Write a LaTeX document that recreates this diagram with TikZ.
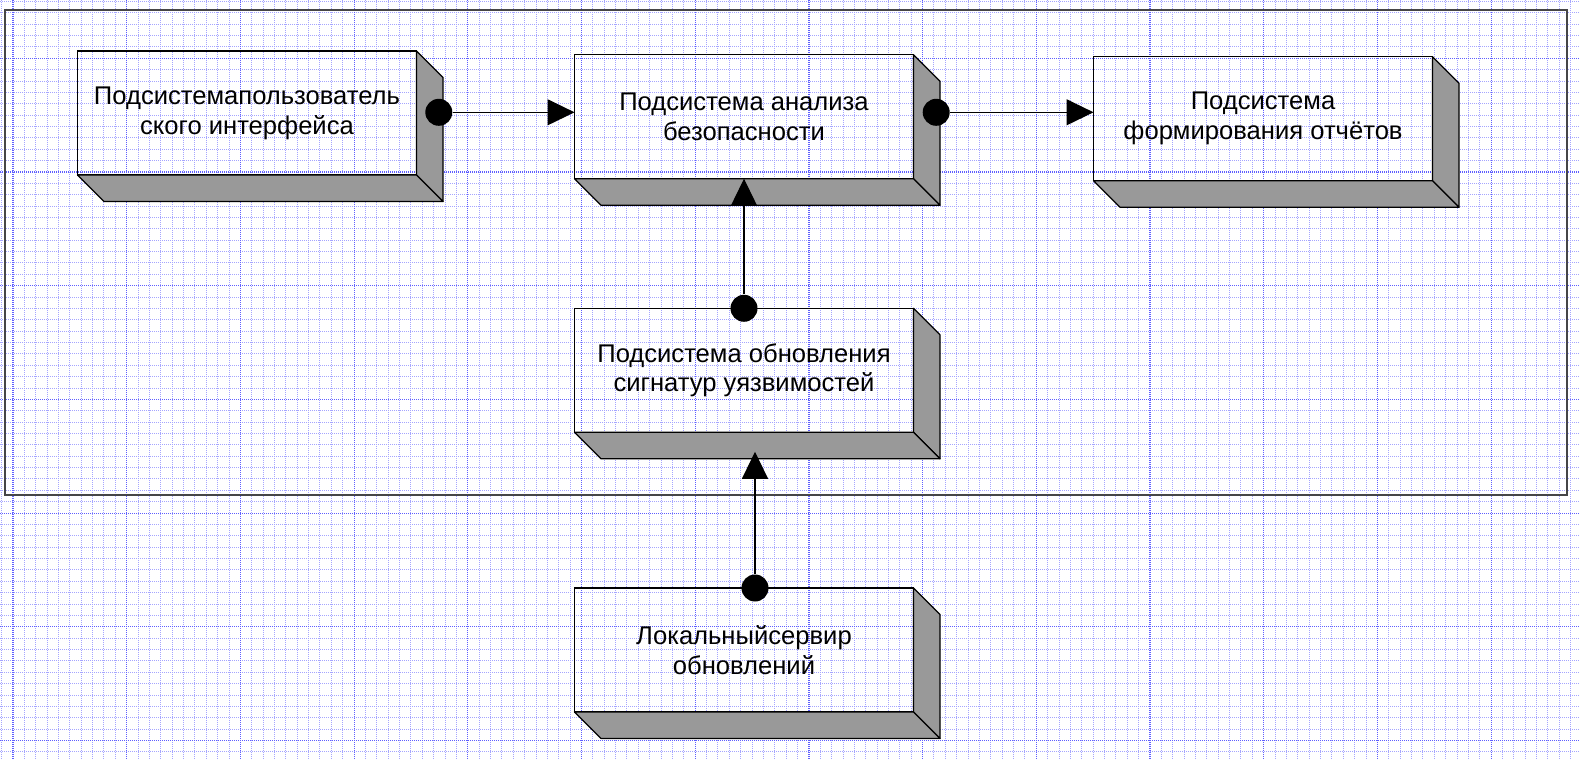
\documentclass[tikz,border=0pt]{standalone}
\usepackage{fontspec}
\setmainfont{Liberation Sans}
\usetikzlibrary{arrows.meta,calc}
\definecolor{minorgrid}{RGB}{165,165,255}
\definecolor{majorgrid}{RGB}{95,95,255}
\definecolor{sidegray}{RGB}{153,153,153}
\definecolor{framegray}{RGB}{70,70,70}
\tikzset{
  blk/.style={draw, line width=0.6pt, minimum width=169.5pt, minimum height=62pt,
    inner sep=0pt, outer sep=0pt, align=center, font=\fontsize{12.8}{14.9}\selectfont},
  face/.style={fill=sidegray, draw=black, line width=0.6pt, line join=round},
  dot/.style={circle, fill=black, inner sep=0pt, minimum size=13.5pt},
  flow/.style={-{Triangle[length=13.5pt,width=13pt]}, line width=0.6pt, draw=black},
  minorline/.style={minorgrid, dash pattern=on 0.5pt off 0.5pt, line width=0.5pt},
  majorline/.style={majorgrid, dash pattern=on 0.5pt off 0.5pt, line width=0.6pt}
}
\begin{document}
\begin{tikzpicture}[x=0.5pt,y=-0.5pt]
\useasboundingbox (0,0) rectangle (1580,759);

\foreach \i in {0,...,138}
  \draw[minorline] ({1.63+\i*11.37},0) -- ({1.63+\i*11.37},759);
\foreach \j in {0,...,66}
  \draw[minorline] (0,{1.45+\j*11.37}) -- (1580,{1.45+\j*11.37});
\foreach \k in {0,...,13}
  \draw[majorline] ({13+\k*113.7},0) -- ({13+\k*113.7},759);
\foreach \k in {0,...,6}
  \draw[majorline] (0,{58.3+\k*113.7}) -- (1580,{58.3+\k*113.7});

\draw[framegray, line width=1pt] (5.3,10.3) rectangle (1566.5,495);

\node[blk] (ui) at (247,113) {Подсистемапользователь\\ского интерфейса};
\node[blk] (anal) at (744,116.7) {Подсистема анализа\\безопасности};
\node[blk] (rep) at (1263,118.7) {Подсистема\\формирования отчётов};
\node[blk] (upd) at (744,370.3) {Подсистема обновления\\сигнатур уязвимостей};
\node[blk] (srv) at (744,650) {Локальныйсервир\\обновлений};

\foreach \b in {ui,anal,rep,upd,srv}{
  \filldraw[face] (\b.north east) -- ++(26.5,26.5) -- ($(\b.south east)+(26.5,26.5)$) -- (\b.south east) -- cycle;
  \filldraw[face] (\b.south west) -- (\b.south east) -- ++(26.5,26.5) -- ($(\b.south west)+(26.5,26.5)$) -- cycle;
}

\node[dot] (d1) at ($(ui.east)+(22.3,-0.7)$) {};
\node[dot] (d2) at ($(anal.east)+(22.7,-4.4)$) {};
\node[dot] (d3) at (upd.north) {};
\node[dot] (d4) at ($(srv.north)+(11,0)$) {};
\coordinate (t4) at ($(d4 |- upd.south)+(0,19.5)$);

\draw[flow] (d1) -- (d1 -| anal.west);
\draw[flow] (d2) -- (d2 -| rep.west);
\draw[flow] (d3) -- (anal.south);
\draw[flow] (d4) -- (t4);
\end{tikzpicture}
\end{document}
